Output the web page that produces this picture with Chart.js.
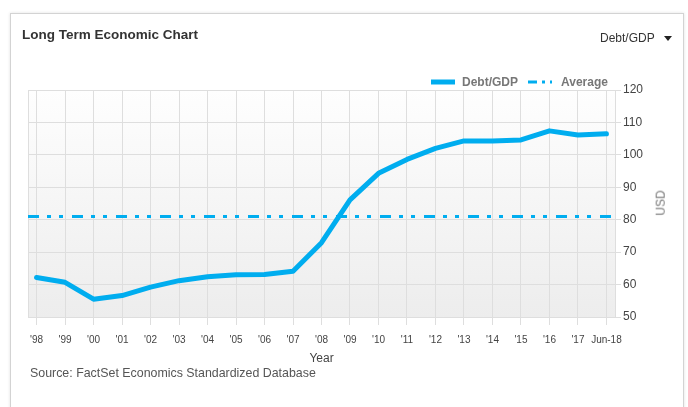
<!DOCTYPE html>
<html>
<head>
<meta charset="utf-8">
<script src="https://cdn.jsdelivr.net/npm/chart.js@4/dist/chart.umd.min.js"></script>
<style>
  body { margin: 0; background: #fff; font-family: "Liberation Sans", Arial, sans-serif; }
  #wrap { position: relative; width: 688px; height: 407px; overflow: hidden; }
  #card { position: absolute; left: 10px; top: 13px; width: 672px; height: 420px;
          border: 1px solid #d3d3d3; box-shadow: 0 0 3px rgba(0,0,0,0.12); background: #fff; }
  #chart { position: absolute; left: 0; top: 0; }
  .txt { position: absolute; white-space: nowrap; }
  #title { left: 22px; top: 27px; font-size: 13.5px; font-weight: bold; color: #333; }
  #pick { left: 600px; top: 31px; font-size: 12px; color: #333; }
  #caret { position: absolute; left: 664px; top: 36px; width: 0; height: 0;
           border-left: 4px solid transparent; border-right: 4px solid transparent; border-top: 5px solid #222; }
  #source { left: 30px; top: 366px; font-size: 12.4px; color: #555; }
  #usd { left: 648px; top: 196px; font-size: 12px; color: #777; transform: rotate(-90deg); transform-origin: center; }
  #legend { position: absolute; left: 431px; top: 75px; font-size: 12px; font-weight: bold; color: #777; display: flex; align-items: center; }
  #legend svg { display: block; }
</style>
</head>
<body>
<div id="wrap">
  <div id="card"></div>
  <canvas id="chart" width="688" height="407"></canvas>
  <div class="txt" id="title">Long Term Economic Chart</div>
  <div class="txt" id="pick">Debt/GDP</div>
  <div id="caret"></div>
  <div id="legend">
    <svg width="24" height="8"><line x1="0" y1="4" x2="24" y2="4" stroke="#00adef" stroke-width="5"/></svg>
    <span style="margin:0 10px 0 7px">Debt/GDP</span>
    <svg width="24" height="8"><line x1="0" y1="4" x2="24" y2="4" stroke="#00adef" stroke-width="3" stroke-dasharray="9 5 3 5 3 5"/></svg>
    <span style="margin-left:9px">Average</span>
  </div>
  <div class="txt" id="usd">USD</div>
  <div class="txt" id="source">Source: FactSet Economics Standardized Database</div>
</div>
<script>
// years on the x axis
const yearLabels = ["'98", "'99", "'00", "'01", "'02", "'03", "'04", "'05", "'06", "'07", "'08",
  "'09", "'10", "'11", "'12", "'13", "'14", "'15", "'16", "'17", "Jun-18"]
// debt to GDP, percent
const debtGdp = [62.2, 60.7, 55.5, 56.6, 59.2, 61.2, 62.4, 63.0, 63.1, 64.1, 72.9,
  86.1, 94.3, 98.6, 102.0, 104.3, 104.3, 104.6, 107.4, 106.1, 106.5]
const averageValue = 81
const yTicks = [50, 60, 70, 80, 90, 100, 110, 120]

const xMin = -0.3
const xMax = yearLabels.length - 1 + 0.3
const blue = '#00adef'
const gridColor = '#dedede'

// gradient panel + left border behind the plot
const plotBg = {
  id: 'plotBg',
  beforeDraw(chart) {
    const { ctx, chartArea: a } = chart
    const g = ctx.createLinearGradient(0, a.top, 0, a.bottom)
    g.addColorStop(0, '#fefefe')
    g.addColorStop(1, '#ededed')
    ctx.save()
    ctx.fillStyle = g
    ctx.fillRect(a.left, a.top, a.right - a.left, a.bottom - a.top)
    ctx.strokeStyle = gridColor
    ctx.lineWidth = 1
    ctx.beginPath()
    ctx.moveTo(a.left + 0.5, a.top)
    ctx.lineTo(a.left + 0.5, a.bottom)
    ctx.stroke()
    ctx.restore()
  }
}

const ctx = document.getElementById('chart').getContext('2d')
new Chart(ctx, {
  type: 'line',
  data: {
    datasets: [{
      label: 'Debt/GDP',
      data: debtGdp.map((v, i) => ({ x: i, y: v })),
      borderColor: blue,
      borderWidth: 5,
      pointRadius: 0,
      tension: 0,
      borderJoinStyle: 'round',
      borderCapStyle: 'round'
    }, {
      label: 'Average',
      data: [{ x: xMin, y: averageValue }, { x: xMax, y: averageValue }],
      borderColor: blue,
      borderWidth: 3,
      borderDash: [11, 8, 4, 8, 4, 9],
      pointRadius: 0
    }]
  },
  options: {
    responsive: false,
    animation: false,
    layout: { padding: { top: 90, left: 28, right: 23, bottom: 40 } },
    plugins: { legend: { display: false }, tooltip: { enabled: false } },
    scales: {
      x: {
        type: 'linear',
        min: xMin,
        max: xMax,
        afterBuildTicks: s => { s.ticks = yearLabels.map((_, i) => ({ value: i })) },
        afterFit: s => { s.height = 50 },
        ticks: {
          autoSkip: false,
          maxRotation: 0,
          padding: 9,
          color: '#444',
          font: { family: 'Liberation Sans', size: 10 },
          callback: v => yearLabels[v]
        },
        grid: { color: gridColor, tickLength: 8 },
        border: { display: false },
        title: { display: true, text: 'Year', color: '#444', padding: { top: 0, bottom: 1 },
                 font: { family: 'Liberation Sans', size: 12 } }
      },
      y: {
        position: 'right',
        min: 50,
        max: 120,
        afterBuildTicks: s => { s.ticks = yTicks.map(v => ({ value: v })) },
        afterFit: s => { s.width = 50 },
        ticks: { padding: 2, color: '#444', font: { family: 'Liberation Sans', size: 12 } },
        grid: { color: gridColor, tickLength: 6 },
        border: { color: gridColor }
      }
    }
  },
  plugins: [plotBg]
})
</script>
</body>
</html>
